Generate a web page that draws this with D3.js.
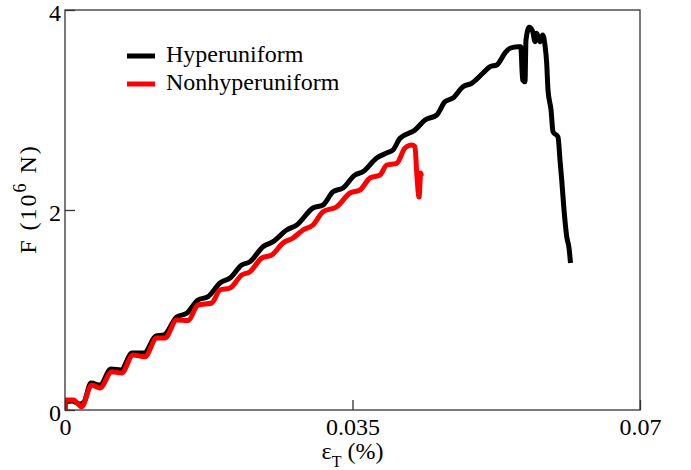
<!DOCTYPE html>
<html>
<head>
<meta charset="utf-8">
<script src="https://cdn.jsdelivr.net/npm/d3@7"></script>
<style>
  html, body { margin: 0; padding: 0; background: #fff; }
  svg { display: block; }
  text { font-family: "Liberation Serif", "Times New Roman", serif; fill: #000; }
</style>
</head>
<body>
<svg id="chart" width="691" height="470"></svg>
<script>
// Strain (%) and force (10^6 N) for the two specimens
const hyperStrain = [0, 0.00006, 0.00085, 0.00183, 0.00231, 0.00316, 0.00426, 0.00560, 0.00682, 0.00816,
  0.00962, 0.01108, 0.01205, 0.01360, 0.01482, 0.01619, 0.01741, 0.01887, 0.02009, 0.02151,
  0.02252, 0.02410, 0.02532, 0.02699, 0.02821, 0.03019, 0.03141, 0.03263, 0.03384, 0.03530,
  0.03628, 0.03795, 0.03916, 0.03993, 0.04078, 0.04261, 0.04383, 0.04525, 0.04626, 0.04723,
  0.04845, 0.04951, 0.05089, 0.05174, 0.05255, 0.05357, 0.05417, 0.05515, 0.05548, 0.05572,
  0.05600, 0.05612, 0.05652, 0.05694, 0.05722, 0.05742, 0.05783, 0.05815, 0.05843, 0.05864,
  0.05880, 0.05917, 0.05941, 0.06002, 0.06026, 0.06047, 0.06075, 0.06108, 0.06136, 0.06154];
const hyperForce = [0, 0.08, 0.09, 0.06, 0.08, 0.27, 0.25, 0.41, 0.40, 0.57,
  0.57, 0.74, 0.75, 0.93, 0.967, 1.10, 1.133, 1.27, 1.32, 1.45,
  1.483, 1.633, 1.683, 1.80, 1.85, 2.02, 2.05, 2.183, 2.22, 2.35,
  2.383, 2.52, 2.57, 2.60, 2.717, 2.80, 2.90, 2.95, 3.083, 3.12,
  3.233, 3.267, 3.37, 3.433, 3.45, 3.57, 3.617, 3.633, 3.633, 3.30,
  3.283, 3.70, 3.827, 3.783, 3.683, 3.767, 3.683, 3.75, 3.65, 3.47,
  3.20, 3.00, 2.783, 2.73, 2.50, 2.30, 2.00, 1.733, 1.62, 1.47];

const nonhyperStrain = [0, 0.00006, 0.00101, 0.00203, 0.00325, 0.00426, 0.00569, 0.00690, 0.00828, 0.00974,
  0.01116, 0.01217, 0.01360, 0.01497, 0.01619, 0.01786, 0.01887, 0.02009, 0.02151, 0.02252,
  0.02395, 0.02516, 0.02654, 0.02776, 0.02897, 0.03019, 0.03141, 0.03308, 0.03470, 0.03591,
  0.03713, 0.03835, 0.03916, 0.04038, 0.04139, 0.04221, 0.04261, 0.04282, 0.04310, 0.04330,
  0.04340];
const nonhyperForce = [0, 0.10, 0.10, 0.033, 0.25, 0.22, 0.383, 0.37, 0.55, 0.533,
  0.72, 0.72, 0.90, 0.895, 1.05, 1.07, 1.20, 1.22, 1.35, 1.383,
  1.52, 1.55, 1.67, 1.72, 1.80, 1.85, 1.983, 2.033, 2.17, 2.20,
  2.32, 2.35, 2.45, 2.467, 2.62, 2.65, 2.633, 2.37, 2.13, 2.37,
  2.34];

const seriesNames = ["Hyperuniform", "Nonhyperuniform"];
const seriesColors = ["#000000", "#ff0000"];

const xTicks = [0, 0.035, 0.07];
const xTickLabels = ["0", "0.035", "0.07"];
const yTicks = [0, 2, 4];
const yTickLabels = ["0", "2", "4"];

const svg = d3.select("#chart");
const margin = { left: 65, top: 10, right: 51, bottom: 60 };
const W = 691, H = 470;
const x = d3.scaleLinear().domain([0, 0.07]).range([margin.left, W - margin.right]);
const y = d3.scaleLinear().domain([0, 4]).range([H - margin.bottom, margin.top]);

// clip path for data lines
svg.append("defs").append("clipPath").attr("id", "plotClip")
  .append("rect")
  .attr("x", x(0)).attr("y", y(4))
  .attr("width", x(0.07) - x(0)).attr("height", y(0) - y(4));

const line = d3.line()
  .x(d => x(d[0])).y(d => y(d[1]))
  .curve(d3.curveMonotoneX);
const series = [
  d3.zip(hyperStrain, hyperForce),
  d3.zip(nonhyperStrain, nonhyperForce)
];

const lines = svg.append("g").attr("clip-path", "url(#plotClip)");
series.forEach((s, i) => {
  lines.append("path")
    .datum(s)
    .attr("d", line)
    .attr("fill", "none")
    .attr("stroke", seriesColors[i])
    .attr("stroke-width", 5)
    .attr("stroke-linejoin", "round")
    .attr("stroke-linecap", "butt");
});

// axes with inward ticks
const xAxis = d3.axisBottom(x).tickValues(xTicks)
  .tickFormat((d, i) => xTickLabels[i]).tickSizeInner(-10).tickSizeOuter(0).tickPadding(14);
const yAxis = d3.axisLeft(y).tickValues(yTicks)
  .tickFormat((d, i) => yTickLabels[i]).tickSizeInner(-10).tickSizeOuter(0).tickPadding(14);

const gx = svg.append("g").attr("transform", `translate(0,${y(0)})`).call(xAxis);
const gy = svg.append("g").attr("transform", `translate(${x(0)},0)`).call(yAxis);
[gx, gy].forEach(g => {
  g.attr("font-family", "Liberation Serif");
  g.select(".domain").remove();
  g.selectAll(".tick line").attr("stroke", "#333").attr("stroke-width", 1.3);
  g.selectAll(".tick text")
    .attr("font-family", "Liberation Serif")
    .attr("font-size", 24)
    .attr("fill", "#000");
});
gx.selectAll(".tick text").attr("dy", "0.71em").attr("y", 8);
gy.selectAll(".tick text").attr("x", -4).attr("dy", "0.42em");

// frame
svg.append("rect")
  .attr("x", x(0)).attr("y", y(4))
  .attr("width", x(0.07) - x(0)).attr("height", y(0) - y(4))
  .attr("fill", "none").attr("stroke", "#333").attr("stroke-width", 1.3);

// axis titles
const xt = svg.append("text")
  .attr("x", x(0.035)).attr("y", 459)
  .attr("text-anchor", "middle").attr("font-size", 24);
xt.append("tspan").text("ε");
xt.append("tspan").attr("font-size", 16).attr("dy", 8).text("T");
xt.append("tspan").attr("dy", -8).text(" (%)");

const yt = svg.append("text")
  .attr("transform", `translate(36,199) rotate(-90)`)
  .attr("text-anchor", "middle").attr("font-size", 24)
  .attr("letter-spacing", 2);
yt.append("tspan").text("F (10");
yt.append("tspan").attr("font-size", 18).attr("dy", -10).text("6");
yt.append("tspan").attr("dy", 10).text(" N)");

// legend
const legend = svg.append("g");
seriesNames.forEach((name, i) => {
  const ly = 56 + i * 28;
  legend.append("line")
    .attr("x1", 127).attr("x2", 155).attr("y1", ly).attr("y2", ly)
    .attr("stroke", seriesColors[i]).attr("stroke-width", 5);
  legend.append("text")
    .attr("x", 166).attr("y", ly + 6)
    .attr("font-size", 24).text(name);
});
</script>
</body>
</html>
